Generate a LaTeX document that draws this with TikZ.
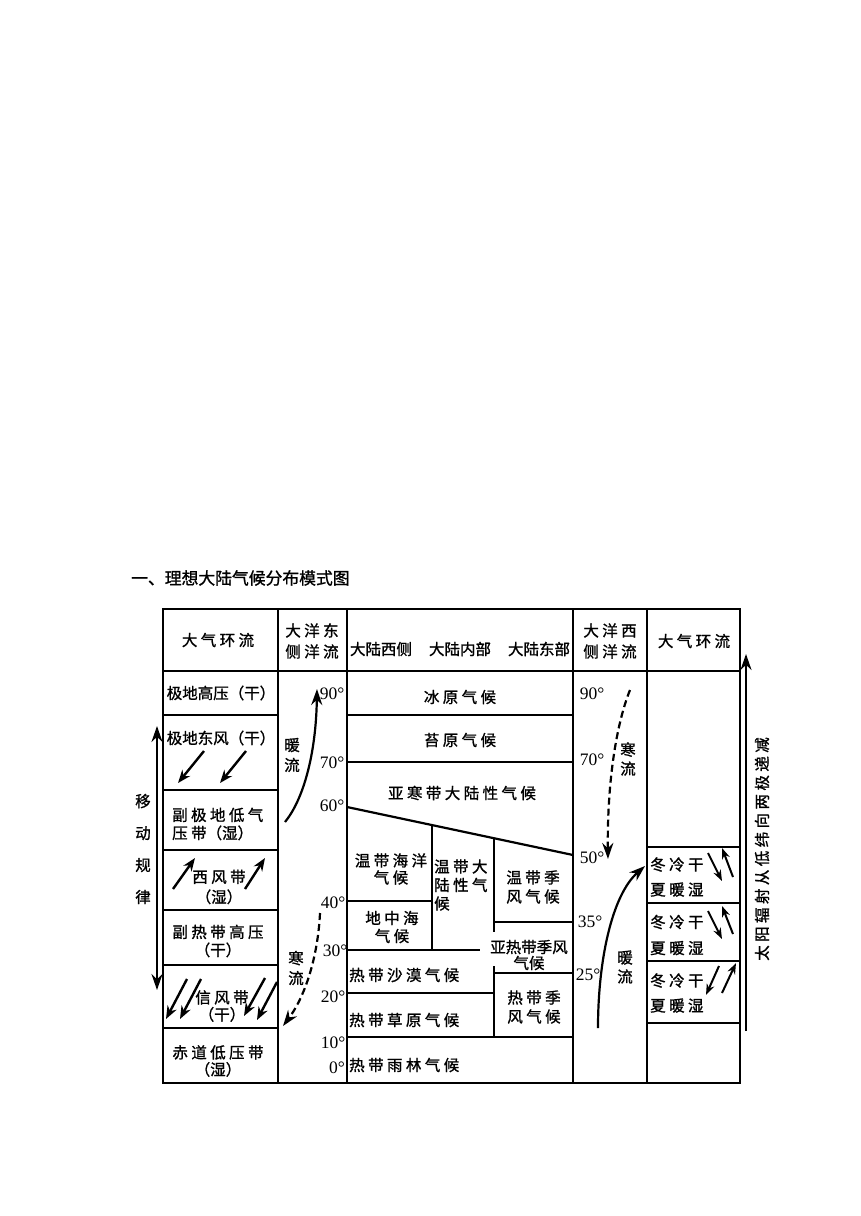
\documentclass[tikz,border=0pt]{standalone}
\usepackage{fontspec}
\setmainfont{Liberation Serif}
\newfontfamily\cj[LetterSpace=22,FakeBold=1.2]{Noto Sans CJK SC}
\newfontfamily\cjt[FakeBold=1.2]{Noto Sans CJK SC}
\usetikzlibrary{arrows.meta}
\begin{document}
\begin{tikzpicture}[x=1pt,y=-1pt,
  frame/.style={line width=2.6pt},
  ln/.style={line width=2.2pt},
  t/.style={font=\cj\fontsize{15.5}{18}\selectfont, inner sep=0pt, align=center},
  tt/.style={font=\cjt\fontsize{15.5}{18}\selectfont, inner sep=0pt, align=center},
  deg/.style={font=\fontsize{17.5}{17.5}\selectfont, inner sep=0pt},
  bigarr/.style={line width=2.2pt, -{Stealth[length=16pt,width=11pt]}},
  smallarr/.style={line width=2.4pt, -{Stealth[length=13pt,width=10pt]}},
  tinyarr/.style={line width=2pt, -{Stealth[length=11pt,width=8pt]}},
  cold/.style={dash pattern=on 7pt off 4pt}
]
\useasboundingbox (0,0) rectangle (860,1216);

% title
\node[anchor=west, inner sep=0pt, font=\cjt\fontsize{16.8}{17}\selectfont] (title) at (131,578) {一、理想大陆气候分布模式图};

% ===== table frame =====
\draw[frame] (163,609) rectangle (740,1083);
\draw[frame] (163,671) -- (740,671);
\foreach \x in {278,347,573,647} \draw[ln] (\x,609) -- (\x,1083);
% left column rows
\foreach \y in {715,790,850,910,965,1028} \draw[frame] (163,\y) -- (278,\y);
% continent
\draw[ln] (347,715) -- (573,715);
\draw[ln] (347,762) -- (573,762);
\draw[ln] (347,807) -- (573,855);
\draw[ln] (432,825) -- (432,950);
\draw[ln] (347,901) -- (432,901);
\draw[ln] (347,950) -- (480,950);
\draw[ln] (494,838) -- (494,932);
\draw[ln] (494,966) -- (494,1037);
\draw[ln] (494,922) -- (573,922);
\draw[ln] (494,973) -- (573,973);
\draw[ln] (347,993) -- (494,993);
\draw[ln] (347,1037) -- (573,1037);
% right column
\foreach \y in {847,903,961,1023} \draw[ln] (647,\y) -- (740,\y);

% ===== headers =====
\node[t] (h1) at (218,640) {大气环流};
\node[t, font=\cj\fontsize{15.5}{21}\selectfont] (h2) at (312,641) {大洋东\\侧洋流};
\node[tt] (h3a) at (381,649) {大陆西侧};
\node[tt] (h3b) at (460,649) {大陆内部};
\node[tt] (h3c) at (539,649) {大陆东部};
\node[t, font=\cj\fontsize{15.5}{21}\selectfont] (h4) at (610,641) {大洋西\\侧洋流};
\node[t] (h5) at (694,641) {大气环流};

% ===== left column =====
\node[tt] (a1) at (221,693) {极地高压（干）};
\node[tt] (a2) at (221,738) {极地东风（干）};
\node[t, anchor=west, align=left] (a3) at (172,824) {副极地低气\\压带{\cjt（湿）}};
\node[t, font=\cj\fontsize{15.5}{20}\selectfont] (a4) at (219,887) {西风带\\{\cjt（湿）}};
\node[t] (a5) at (218,941) {副热带高压\\{\cjt（干）}};
\node[t, font=\cj\fontsize{15.5}{17}\selectfont] (a6) at (222,1006) {信风带\\{\cjt（干）}};
\node[t, font=\cj\fontsize{15.5}{17}\selectfont] (a7) at (218,1061) {赤道低压带\\{\cjt（湿）}};

% wind arrows left column
\coordinate (e1s) at (204,751); \coordinate (e1e) at (178,783);
\coordinate (e2s) at (246,751); \coordinate (e2e) at (220,783);
\draw[smallarr] (e1s) -- (e1e);
\draw[smallarr] (e2s) -- (e2e);
\coordinate (w1s) at (173,889); \coordinate (w1e) at (195,858);
\coordinate (w2s) at (245,889); \coordinate (w2e) at (265,858);
\draw[smallarr] (w1s) -- (w1e);
\draw[smallarr] (w2s) -- (w2e);
\coordinate (t1s) at (187,979); \coordinate (t1e) at (166,1019);
\coordinate (t2s) at (201,979); \coordinate (t2e) at (180,1019);
\coordinate (t3s) at (265,978); \coordinate (t3e) at (244,1016);
\coordinate (t4s) at (277,982); \coordinate (t4e) at (257,1020);
\draw[smallarr] (t1s) -- (t1e);
\draw[smallarr] (t2s) -- (t2e);
\draw[smallarr] (t3s) -- (t3e);
\draw[smallarr] (t4s) -- (t4e);

% moving rule
\coordinate (mvt) at (157,726); \coordinate (mvb) at (157,990);
\draw[line width=2.2pt, {Stealth[length=16pt,width=11pt]}-{Stealth[length=16pt,width=11pt]}] (mvb) -- (mvt);
\node[t, font=\cj\fontsize{15.5}{32}\selectfont] (mv) at (143,849) {移\\动\\规\\律};

% ===== left ocean =====
\node[deg] (d90) at (332,694) {90°};
\node[deg] (d70) at (332,763) {70°};
\node[deg] (d60) at (332,806) {60°};
\node[deg] (d40) at (333,903) {40°};
\node[deg] (d30) at (335,951) {30°};
\node[deg] (d20) at (333,997) {20°};
\node[deg] (d10) at (333,1043) {10°};
\node[deg] (d0) at (337,1068) {0°};
\node[t, font=\cj\fontsize{15.5}{20}\selectfont] (o1) at (292,755) {暖\\流};
\node[t, font=\cj\fontsize{15.5}{20}\selectfont] (o2) at (296,968) {寒\\流};
\coordinate (lw1) at (285,822); \coordinate (lw2) at (317,689);
\draw[bigarr] (lw1) .. controls (303,800) and (316,755) .. (lw2);
\coordinate (lc1) at (320,913); \coordinate (lc2) at (283,1026);
\draw[bigarr, cold] (lc1) .. controls (318,955) and (306,995) .. (lc2);

% ===== continent =====
\node[t] (c1) at (460,697) {冰原气候};
\node[t] (c2) at (460,740) {苔原气候};
\node[t] (c3) at (462,793) {亚寒带大陆性气候};
\node[t, font=\cj\fontsize{15.5}{17}\selectfont] (c4) at (391,869) {温带海洋\\气候};
\node[t] (c5) at (392,927) {地中海\\气候};
\node[t, anchor=west, align=left, font=\cj\fontsize{15.5}{18.5}\selectfont] (c6) at (434,885) {温带大\\陆性气\\候};
\node[t, font=\cj\fontsize{15.5}{19}\selectfont] (c7) at (533,887) {温带季\\风气候};
\node[t, font=\cjt\fontsize{15.5}{16}\selectfont] (c8) at (529,955) {亚热带季风\\气候};
\node[t, anchor=west] (c9) at (349,975) {热带沙漠气候};
\node[t, anchor=west] (c10) at (349,1020) {热带草原气候};
\node[t, font=\cj\fontsize{15.5}{19}\selectfont] (c11) at (534,1007) {热带季\\风气候};
\node[t, anchor=west] (c12) at (349,1065) {热带雨林气候};

% ===== right ocean =====
\node[deg] (e90) at (592,694) {90°};
\node[deg] (e70) at (592,760) {70°};
\node[deg] (e50) at (592,858) {50°};
\node[deg] (e35) at (590,922) {35°};
\node[deg] (e25) at (588,975) {25°};
\node[t, font=\cj\fontsize{15.5}{19}\selectfont] (o3) at (628,759) {寒\\流};
\node[t, font=\cj\fontsize{15.5}{19}\selectfont] (o4) at (625,967) {暖\\流};
\coordinate (rc1) at (630,690); \coordinate (rc2) at (608,859);
\draw[bigarr, cold] (rc1) .. controls (617,722) and (607,780) .. (rc2);
\coordinate (rw1) at (598,1028); \coordinate (rw2) at (645,866);
\draw[bigarr] (rw1) .. controls (598,960) and (612,895) .. (rw2);

% ===== right column =====
\node[t, anchor=west, align=left, font=\cj\fontsize{15.5}{25}\selectfont] (r1) at (650,877) {冬冷干\\夏暖湿};
\node[t, anchor=west, align=left, font=\cj\fontsize{15.5}{26}\selectfont] (r2) at (650,935) {冬冷干\\夏暖湿};
\node[t, anchor=west, align=left, font=\cj\fontsize{15.5}{25}\selectfont] (r3) at (650,993) {冬冷干\\夏暖湿};
\coordinate (b1a) at (708,853); \coordinate (b1b) at (722,881);
\coordinate (b1c) at (733,877); \coordinate (b1d) at (722,848);
\draw[tinyarr] (b1a) -- (b1b);
\draw[tinyarr] (b1c) -- (b1d);
\coordinate (b2a) at (708,911); \coordinate (b2b) at (722,939);
\coordinate (b2c) at (733,934); \coordinate (b2d) at (722,906);
\draw[tinyarr] (b2a) -- (b2b);
\draw[tinyarr] (b2c) -- (b2d);
\coordinate (b3a) at (719,966); \coordinate (b3b) at (706,995);
\coordinate (b3c) at (722,993); \coordinate (b3d) at (736,963);
\draw[tinyarr] (b3a) -- (b3b);
\draw[tinyarr] (b3c) -- (b3d);

% solar radiation arrow
\coordinate (sa1) at (746,1031); \coordinate (sa2) at (746,654);
\draw[bigarr] (sa1) -- (sa2);
\node[t, rotate=90] (sun) at (762,849) {太阳辐射从低纬向两极递减};
\end{tikzpicture}
\end{document}
